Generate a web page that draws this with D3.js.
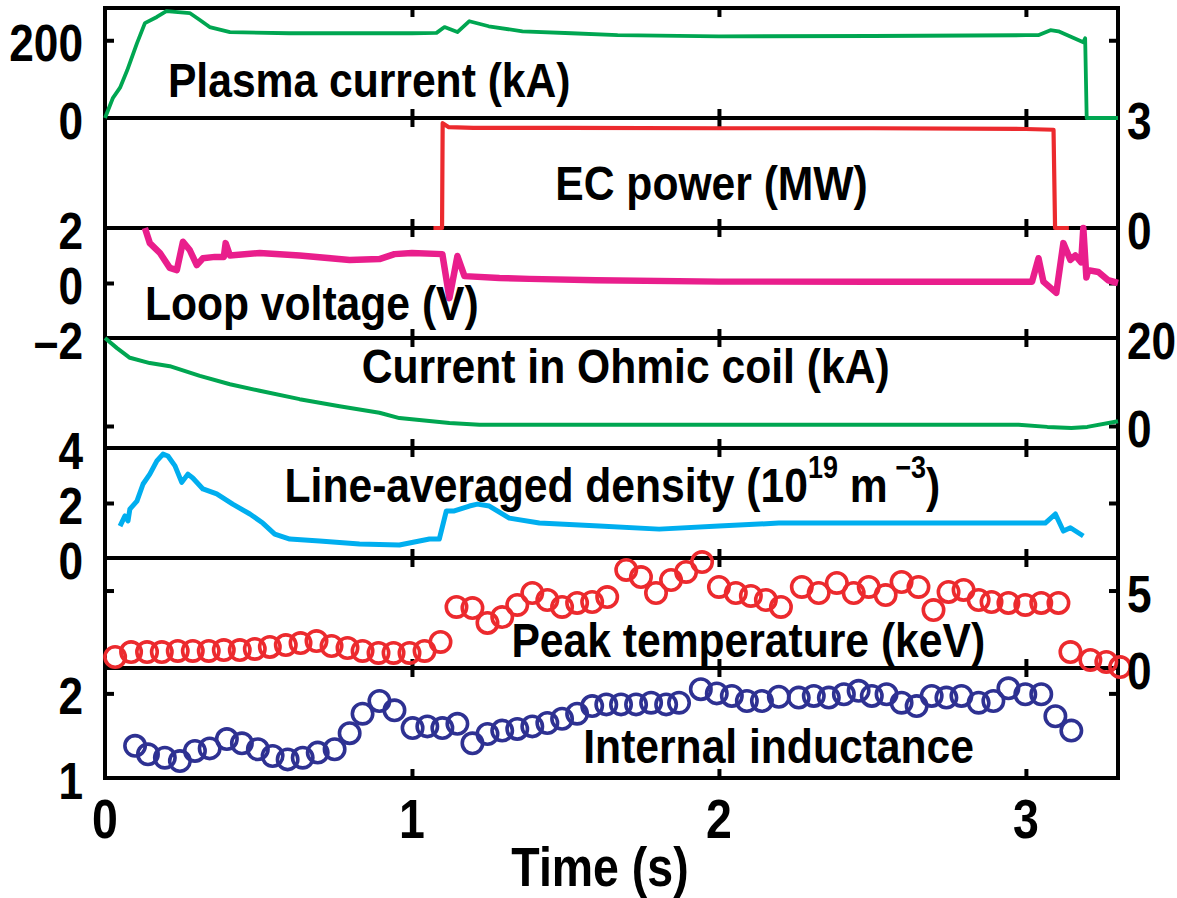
<!DOCTYPE html>
<html>
<head>
<meta charset="utf-8">
<script src="https://cdn.jsdelivr.net/npm/d3@7"></script>
<style>
  body { margin: 0; background: #fff; }
  text { font-family: "Liberation Sans", Arial, Helvetica, sans-serif; font-weight: bold; fill: #000; }
</style>
</head>
<body>
<div id="container"></div>
<script>
// time axis
var timeTicks = [0, 1, 2, 3];

// plasma current (kA) [t, value]
var plasmaCurrent = [[0,0],[0.026,52],[0.049,78],[0.072,122],[0.104,192],[0.13,244],[0.169,260],[0.2,275],
    [0.276,270],[0.309,252],[0.341,234],[0.407,221],[0.6,218],[0.8,218],[1.0,218],[1.08,219],[1.106,234],
    [1.148,221],[1.187,249],[1.25,236],[1.36,223],[1.52,218],[1.67,213],[2.0,210],[2.5,211],[3.0,213],
    [3.04,213],[3.08,226],[3.106,223],[3.187,195],[3.193,205],[3.198,0],[3.3,0]];

// EC power (MW)
var ecPower = [[1.07,0],[1.098,0],[1.1,2.86],[1.12,2.75],[1.2,2.73],[1.5,2.73],[2.0,2.72],[2.5,2.72],
    [3.0,2.7],[3.09,2.68],[3.095,0],[3.14,0]];

// loop voltage (V)
var loopVoltage = [[0.13,2.0],[0.146,1.45],[0.179,1.09],[0.211,0.55],[0.234,0.47],[0.254,1.5],[0.276,1.2],
    [0.299,0.65],[0.319,0.9],[0.358,0.95],[0.387,0.95],[0.393,1.45],[0.407,1.0],[0.504,1.09],[0.634,1.0],
    [0.797,0.84],[0.894,0.87],[0.943,1.05],[1.0,1.09],[1.099,1.05],[1.122,-0.55],[1.148,0.98],[1.171,0.25],
    [1.285,0.18],[1.382,0.15],[1.6,0.1],[2.0,0.05],[2.5,0.05],[3.02,0.05],[3.041,0.9],[3.057,0.05],
    [3.099,-0.36],[3.122,1.45],[3.145,0.84],[3.161,1.0],[3.18,0.75],[3.187,2.0],[3.197,0.2],[3.203,0.47],
    [3.236,0.4],[3.268,0.1],[3.3,0.0]];

// current in Ohmic coil (kA)
var ohmicCurrent = [[0,20],[0.039,17.7],[0.081,15.5],[0.146,14.3],[0.211,13.6],[0.309,11.4],[0.407,9.5],
    [0.504,8.0],[0.634,6.1],[0.764,4.5],[0.894,3.0],[0.959,1.8],[1.122,0.7],[1.22,0.3],[2.0,0.3],
    [2.976,0.3],[3.07,-0.2],[3.148,-0.45],[3.2,-0.2],[3.3,1.1]];

// line-averaged density (1e19 m^-3)
var density = [[0.049,1.16],[0.065,1.53],[0.075,1.35],[0.081,1.78],[0.104,2.07],[0.124,2.69],[0.146,3.05],
    [0.169,3.53],[0.189,3.78],[0.205,3.71],[0.228,3.35],[0.25,2.75],[0.27,3.05],[0.286,2.91],[0.319,2.51],
    [0.364,2.33],[0.416,1.96],[0.472,1.6],[0.514,1.27],[0.553,0.87],[0.602,0.69],[0.699,0.62],[0.829,0.51],
    [0.959,0.47],[1.057,0.69],[1.089,0.69],[1.112,1.71],[1.138,1.71],[1.187,1.89],[1.213,1.96],[1.252,1.89],
    [1.317,1.45],[1.415,1.27],[1.61,1.16],[1.805,1.05],[2.0,1.16],[2.195,1.27],[2.585,1.27],[3.063,1.27],
    [3.096,1.6],[3.122,0.98],[3.145,1.1],[3.187,0.8]];

// peak temperature (keV)
var peakTemp = [[0.033,0.71],[0.085,1.03],[0.137,1.03],[0.185,1.03],[0.237,1.1],[0.286,1.1],[0.338,1.1],
    [0.387,1.16],[0.439,1.16],[0.488,1.23],[0.537,1.36],[0.589,1.48],[0.637,1.61],[0.689,1.74],[0.738,1.42],
    [0.79,1.29],[0.839,1.1],[0.891,0.97],[0.94,0.97],[0.992,0.97],[1.041,1.1],[1.093,1.68],[1.145,3.94],
    [1.197,3.87],[1.246,2.91],[1.294,3.29],[1.343,4.07],[1.392,4.84],[1.441,4.39],[1.489,3.94],[1.538,4.2],
    [1.587,4.26],[1.636,4.58],[1.698,6.33],[1.746,5.87],[1.795,4.84],[1.844,5.68],[1.893,6.2],[1.945,6.84],
    [2.0,5.23],[2.055,4.84],[2.104,4.65],[2.153,4.39],[2.202,3.94],[2.27,5.23],[2.325,4.84],[2.384,5.49],
    [2.439,4.84],[2.488,5.23],[2.543,4.71],[2.595,5.55],[2.65,5.23],[2.699,3.74],[2.748,4.91],[2.797,5.04],
    [2.846,4.39],[2.888,4.26],[2.943,4.2],[2.998,4.07],[3.05,4.2],[3.106,4.2],[3.145,1.03],[3.21,0.52],
    [3.262,0.39],[3.307,0.06]];

// internal inductance
var inductance = [[0.098,1.38],[0.14,1.28],[0.195,1.24],[0.244,1.2],[0.293,1.32],[0.341,1.35],[0.397,1.46],
    [0.446,1.41],[0.498,1.34],[0.546,1.26],[0.595,1.22],[0.644,1.24],[0.693,1.3],[0.748,1.34],[0.797,1.53],
    [0.839,1.76],[0.894,1.91],[0.943,1.8],[1.002,1.59],[1.05,1.61],[1.099,1.59],[1.148,1.64],[1.197,1.41],
    [1.246,1.52],[1.294,1.56],[1.343,1.58],[1.392,1.61],[1.441,1.65],[1.489,1.7],[1.538,1.76],[1.587,1.85],
    [1.633,1.87],[1.681,1.87],[1.73,1.87],[1.779,1.89],[1.828,1.87],[1.87,1.89],[1.941,2.05],[1.993,2.0],
    [2.042,1.97],[2.091,1.91],[2.14,1.91],[2.195,1.96],[2.26,1.95],[2.309,1.97],[2.358,1.95],[2.407,1.99],
    [2.455,2.03],[2.498,1.97],[2.546,1.99],[2.595,1.89],[2.644,1.85],[2.693,1.97],[2.741,1.95],[2.79,1.97],
    [2.846,1.89],[2.894,1.91],[2.943,2.06],[2.998,1.99],[3.05,1.99],[3.096,1.73],[3.148,1.56]];

// panel setup: domain, tick values, label side, labels
var panels = [
  {title: "Plasma current (kA)", data: plasmaCurrent, color: "#00a651", kind: "line", width: 3.8,
   domain: [0, 283], ticks: [0, 200], side: "left", labels: ["0", "200"], tx: 0.205, ty: 89},
  {title: "EC power (MW)", data: ecPower, color: "#ec2a2e", kind: "line", width: 4.2,
   domain: [0, 3], ticks: [0, 3], side: "right", labels: ["0", "3"], tx: 1.467, ty: 82},
  {title: "Loop voltage (V)", data: loopVoltage, color: "#e91e8c", kind: "line", width: 6.5,
   domain: [-2, 2], ticks: [-2, 0, 2], side: "left", labels: ["\u20132", "0", "2"], tx: 0.13, ty: 92},
  {title: "Current in Ohmic coil (kA)", data: ohmicCurrent, color: "#00a651", kind: "line", width: 4,
   domain: [-5, 20], ticks: [0, 20], side: "right", labels: ["0", "20"], tx: 0.836, ty: 45},
  {title: "density", data: density, color: "#00aeef", kind: "line", width: 5,
   domain: [0, 4], ticks: [0, 2, 4], side: "left", labels: ["0", "2", "4"], tx: 0.585, ty: 54},
  {title: "Peak temperature (keV)", data: peakTemp, color: "#ec2a2e", kind: "dots",
   domain: [0, 7.1], ticks: [0, 5], side: "right", labels: ["0", "5"], tx: 1.324, ty: 99},
  {title: "Internal inductance", data: inductance, color: "#2e3192", kind: "dots",
   domain: [1, 2.3], ticks: [1, 2], side: "left", labels: ["1", "2"], tx: 1.558, ty: 95}
];

var W = 1177, H = 898,
    left = 105, right = 1118,
    top0 = 8, PH = 110,
    tickLen = 9, frameW = 4;

var x = d3.scaleLinear().domain([0, 3.3]).range([left, right]);

var svg = d3.select("#container").append("svg")
    .attr("width", W).attr("height", H);

function label(sel, px, py, s, anchor, size, sx) {
    return sel.append("text")
        .attr("transform", "translate(" + px + "," + py + ") scale(" + sx + ",1)")
        .attr("text-anchor", anchor)
        .attr("font-size", size)
        .text(s);
}

var frames = svg.append("g"),
    marks = svg.append("g"),
    texts = svg.append("g");

panels.forEach(function(p, i) {
    var top = top0 + i * PH;
    var y = d3.scaleLinear().domain(p.domain).range([top + PH, top]);
    var inner = p.ticks.filter(function(v) { return v > p.domain[0] && v < p.domain[1]; });

    // ticks, mirrored inside on every side
    var yl = frames.append("g").attr("transform", "translate(" + left + ",0)")
        .call(d3.axisLeft(y).tickValues(inner).tickSize(-tickLen).tickSizeOuter(0).tickFormat(""));
    var yr = frames.append("g").attr("transform", "translate(" + right + ",0)")
        .call(d3.axisRight(y).tickValues(inner).tickSize(-tickLen).tickSizeOuter(0).tickFormat(""));
    var xt = frames.append("g").attr("transform", "translate(0," + top + ")")
        .call(d3.axisTop(x).tickValues([1, 2, 3]).tickSize(-tickLen).tickSizeOuter(0).tickFormat(""));
    var xb = frames.append("g").attr("transform", "translate(0," + (top + PH) + ")")
        .call(d3.axisBottom(x).tickValues([1, 2, 3]).tickSize(-tickLen).tickSizeOuter(0).tickFormat(""));
    [yl, yr, xt, xb].forEach(function(a) {
        a.select(".domain").remove();
        a.selectAll("line").attr("stroke", "#000").attr("stroke-width", frameW);
    });

    frames.append("rect")
        .attr("x", left).attr("y", top)
        .attr("width", right - left).attr("height", PH)
        .attr("fill", "none").attr("stroke", "#000").attr("stroke-width", frameW);

    if (p.kind == "line") {
        var line = d3.line()
            .x(function(d) { return x(d[0]); })
            .y(function(d) { return y(d[1]); });
        marks.append("path")
            .datum(p.data)
            .attr("d", line)
            .attr("fill", "none")
            .attr("stroke", p.color)
            .attr("stroke-width", p.width)
            .attr("stroke-linejoin", "round");
    } else {
        marks.append("g").selectAll("circle")
            .data(p.data)
            .enter().append("circle")
            .attr("cx", function(d) { return x(d[0]); })
            .attr("cy", function(d) { return y(d[1]); })
            .attr("r", 10.2)
            .attr("fill", "none")
            .attr("stroke", p.color)
            .attr("stroke-width", 3.6);
    }

    // tick labels
    p.ticks.forEach(function(v, k) {
        if (p.side == "left")
            label(texts, left - 22, y(v) + 21, p.labels[k], "end", 52, 0.85);
        else
            label(texts, right + 9, y(v) + 21, p.labels[k], "start", 52, 0.85);
    });

    // panel title
    if (p.title == "density") {
        var t = texts.append("text")
            .attr("transform", "translate(" + x(p.tx) + "," + (top + p.ty) + ") scale(0.87,1)")
            .attr("font-size", 49);
        t.append("tspan").text("Line-averaged density (10");
        t.append("tspan").attr("dy", -24).attr("font-size", 31).text("19");
        t.append("tspan").attr("dy", 24).text(" m");
        t.append("tspan").attr("dy", -24).attr("font-size", 31).text(" \u22123");
        t.append("tspan").attr("dy", 24).text(")");
    } else {
        label(texts, x(p.tx), top + p.ty, p.title, "start", 49, 0.87);
    }
});

// time axis labels
var bottom = top0 + panels.length * PH;
timeTicks.forEach(function(v) {
    label(texts, x(v), bottom + 60, String(v), "middle", 56, 0.83);
});
label(texts, 600, 886, "Time (s)", "middle", 56, 0.83);
</script>
</body>
</html>
